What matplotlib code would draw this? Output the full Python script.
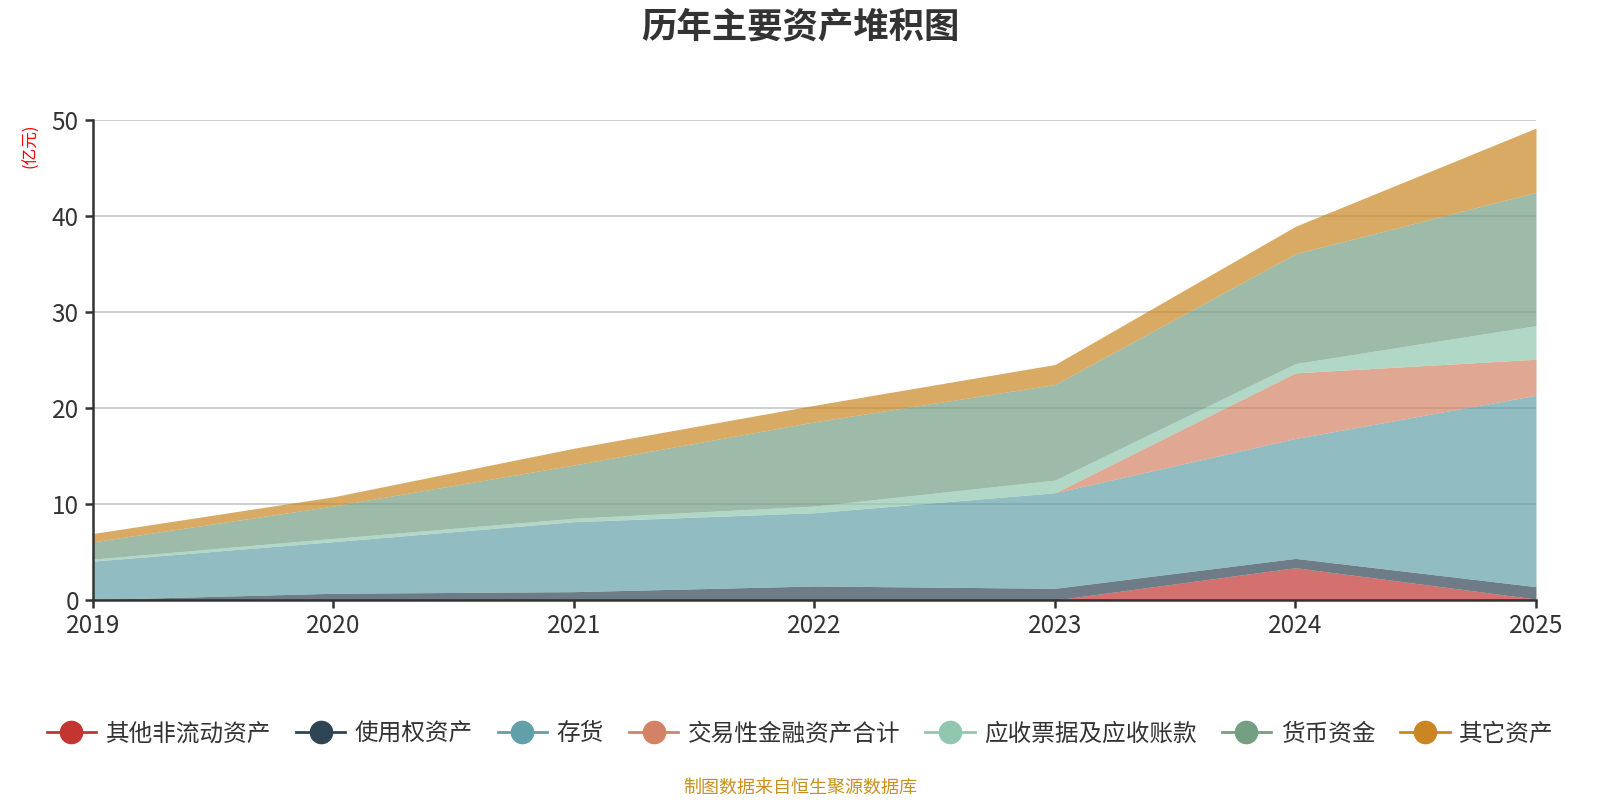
import matplotlib.pyplot as plt
from matplotlib.lines import Line2D
import numpy as np

plt.rcParams['font.family'] = ['Noto Sans CJK SC', 'DejaVu Sans']

# data (亿元), stacked bottom -> top
years = [2019, 2020, 2021, 2022, 2023, 2024, 2025]
series_names = ['其他非流动资产', '使用权资产', '存货', '交易性金融资产合计',
                '应收票据及应收账款', '货币资金', '其它资产']
other_noncurrent = [0, 0, 0, 0, 0, 3.37, 0.1]
right_of_use = [0.05, 0.7, 0.87, 1.46, 1.22, 0.97, 1.29]
inventory = [4.0, 5.38, 7.29, 7.64, 9.96, 12.5, 19.96]
trading_fin = [0, 0, 0.02, 0, 0, 6.84, 3.75]
receivables = [0.21, 0.34, 0.34, 0.69, 1.32, 0.97, 3.5]
cash = [1.8, 3.38, 5.56, 8.78, 9.97, 11.45, 13.9]
other_assets = [0.87, 0.96, 1.74, 1.73, 2.08, 2.86, 6.7]

values = [other_noncurrent, right_of_use, inventory, trading_fin,
          receivables, cash, other_assets]
colors = ['#c23531', '#2f4554', '#61a0a8', '#d48265', '#91c7ae', '#749f83', '#ca8622']

fig = plt.figure(figsize=(16, 8), dpi=100)
ax = fig.add_axes([0.058, 0.25, 0.902, 0.5995])

base = np.zeros(len(years))
for vals, c in zip(values, colors):
    top = base + np.array(vals)
    ax.fill_between(years, base, top, color=c, alpha=0.7, linewidth=0)
    base = top

ax.set_xlim(2019, 2025)
ax.set_ylim(0, 50)
ax.set_xticks(years)
ax.set_xticklabels([str(y) for y in years])
ax.set_yticks([0, 10, 20, 30, 40, 50])

ax.set_axisbelow(True)
ax.yaxis.grid(True, color='#cccccc', linewidth=1.3)
for s in ['top', 'right']:
    ax.spines[s].set_visible(False)
for s in ['left', 'bottom']:
    ax.spines[s].set_color('#333333')
    ax.spines[s].set_linewidth(1.8)
ax.tick_params(axis='both', colors='#333333', labelsize=17.5, length=6, width=1.8)
ax.tick_params(axis='y', pad=4)

fig.text(0.5, 0.966, '历年主要资产堆积图', ha='center', va='center',
         fontsize=25.5, fontweight='bold', color='#333333')
fig.text(0.019, 0.818, '(亿元)', ha='center', va='center', rotation=90,
         fontsize=12, color='red')

handles = [Line2D([], [], color=c, marker='o', markersize=16, linewidth=2)
           for c in colors]
fig.legend(handles, series_names, loc='center', bbox_to_anchor=(0.5, 0.0825),
           ncol=7, frameon=False, fontsize=17, handlelength=2.1,
           handletextpad=0.4, columnspacing=1.05, labelcolor='#333333')

fig.text(0.5, 0.015, '制图数据来自恒生聚源数据库', ha='center', va='center',
         fontsize=13, color='#c8901f')

plt.savefig('out.png', dpi=100)
